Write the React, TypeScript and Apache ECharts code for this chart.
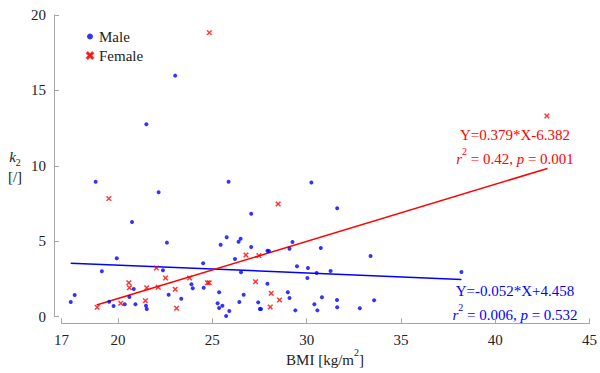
import React, { useEffect, useRef } from "react";
import * as echarts from "echarts";

const maleX = [17.49, 17.7, 18.81, 19.14, 19.53, 19.76, 19.93, 20.35, 20.6, 20.74, 20.83, 20.92, 21.48, 21.5, 21.52, 22.15, 22.38, 22.59, 22.68, 23.03, 23.35, 23.89, 23.96, 24.51, 24.54, 25.28, 25.36, 25.36, 25.44, 25.53, 25.73, 25.76, 25.86, 25.9, 26.2, 26.39, 26.43, 26.5, 26.52, 26.66, 27.06, 27.06, 27.43, 27.52, 27.58, 27.92, 27.92, 28.0, 29.0, 29.09, 29.09, 29.25, 29.4, 29.49, 30.04, 30.07, 30.25, 30.41, 30.53, 30.57, 30.75, 30.81, 31.27, 31.61, 31.62, 31.62, 32.82, 33.39, 33.58, 38.21];
const maleY = [0.97, 1.44, 8.95, 3.01, 0.99, 0.71, 3.87, 0.82, 1.31, 6.28, 1.84, 0.82, 0.73, 12.76, 0.51, 8.25, 3.08, 4.91, 1.46, 15.98, 1.19, 2.15, 1.88, 3.54, 1.92, 0.89, 1.62, 0.58, 4.77, 0.73, 0.05, 5.27, 8.95, 0.38, 3.83, 4.97, 0.97, 5.17, 2.94, 1.46, 6.83, 4.62, 0.95, 0.51, 0.51, 2.19, 4.37, 4.35, 1.62, 4.51, 1.24, 4.95, 0.42, 3.34, 2.57, 3.23, 8.89, 0.82, 2.9, 0.42, 4.56, 1.29, 3.03, 1.11, 7.19, 0.62, 0.56, 4.02, 1.09, 2.96];

const femaleX = [18.89, 19.51, 20.14, 20.57, 20.6, 21.45, 21.52, 22.03, 22.13, 22.52, 23.03, 23.1, 23.79, 24.74, 24.83, 24.84, 26.78, 27.29, 27.47, 28.07, 28.12, 28.49, 28.56, 42.74];
const femaleY = [0.62, 7.83, 0.89, 2.25, 1.92, 1.06, 1.92, 3.23, 1.95, 2.57, 1.82, 0.56, 2.57, 2.25, 2.25, 18.83, 4.09, 2.32, 4.05, 0.64, 1.55, 7.47, 1.11, 13.31];

const maleFitX = [17.49, 38.21];
const maleFitY = [3.55, 2.47];
const femaleFitX = [18.86, 42.77];
const femaleFitY = [0.77, 9.83];

const xTicks = [17, 20, 25, 30, 35, 40, 45];

const FONT = "Liberation Serif";
const RED = "#ff0000";
const BLUE = "#0000ff";
const AXIS = "#a6a6a6";
const TEXT = "#222222";

const zip = (xs: number[], ys: number[]) => xs.map((x, i) => [x, ys[i]]);

const X_SYMBOL =
  "path://M0,1.4 L1.4,0 L5,3.6 L8.6,0 L10,1.4 L6.4,5 L10,8.6 L8.6,10 L5,6.4 L1.4,10 L0,8.6 L3.6,5 Z";

export default function App() {
  const ref = useRef<HTMLDivElement>(null);
  useEffect(() => {
    if (!ref.current) return;
    const chart = echarts.init(ref.current, null, { renderer: "svg" });
    const mathRich = (color: string) => ({
      i: { fontFamily: FONT, fontStyle: "italic", fontSize: 15, fill: color, lineHeight: 20, verticalAlign: "bottom" },
      n: { fontFamily: FONT, fontSize: 15, fill: color, lineHeight: 20, verticalAlign: "bottom" },
      sup: { fontFamily: FONT, fontSize: 10, fill: color, lineHeight: 20, verticalAlign: "top", padding: [0, 0, 8, 0] },
    });
    chart.setOption({
      animation: false,
      backgroundColor: "#ffffff",
      textStyle: { fontFamily: FONT },
      grid: { left: 61.5, right: 8.3, top: 15, bottom: 56.3, containLabel: false },
      xAxis: {
        type: "value",
        min: 17,
        max: 45,
        offset: 6.6,
        splitLine: { show: false },
        axisLine: { onZero: false, lineStyle: { color: AXIS, width: 1 } },
        axisTick: { inside: true, length: 5, customValues: xTicks, lineStyle: { color: AXIS } },
        axisLabel: { customValues: xTicks, fontFamily: FONT, fontSize: 15, color: TEXT, margin: 9 },
      },
      yAxis: {
        type: "value",
        min: 0,
        max: 20,
        interval: 5,
        offset: 7.5,
        splitLine: { show: false },
        axisLine: { show: true, onZero: false, lineStyle: { color: AXIS, width: 1 } },
        axisTick: { show: true, inside: true, length: 5, lineStyle: { color: AXIS } },
        axisLabel: { fontFamily: FONT, fontSize: 15, color: TEXT, margin: 8 },
      },
      legend: {
        data: ["Male", "Female"],
        orient: "vertical",
        left: 81,
        top: 24,
        itemWidth: 6,
        itemHeight: 6,
        itemGap: 4,
        textStyle: { fontFamily: FONT, fontSize: 15, color: TEXT, padding: [0, 0, 0, 1] },
      },
      series: [
        {
          name: "Male",
          type: "scatter",
          data: zip(maleX, maleY),
          symbol: "circle",
          symbolSize: 4,
          itemStyle: { color: BLUE },
          z: 3,
        },
        {
          name: "Female",
          type: "scatter",
          data: zip(femaleX, femaleY),
          symbol: X_SYMBOL,
          symbolSize: 5,
          itemStyle: { color: RED, borderColor: RED, borderWidth: 0.5 },
          z: 3,
        },
        {
          name: "MaleFit",
          type: "line",
          data: zip(maleFitX, maleFitY),
          showSymbol: false,
          lineStyle: { color: BLUE, width: 1.5 },
          z: 2,
        },
        {
          name: "FemaleFit",
          type: "line",
          data: zip(femaleFitX, femaleFitY),
          showSymbol: false,
          lineStyle: { color: RED, width: 1.5 },
          z: 2,
        },
      ],
      graphic: [
        {
          type: "text",
          x: 515,
          y: 135,
          style: { text: "Y=0.379*X-6.382", fontFamily: FONT, fontSize: 15, fill: RED, align: "center", verticalAlign: "middle" },
        },
        {
          type: "text",
          x: 515,
          y: 156,
          style: {
            text: "{i|r}{sup|2}{n| = 0.42, }{i|p}{n| = 0.001}",
            rich: mathRich(RED),
            fill: RED,
            align: "center",
            verticalAlign: "middle",
          },
        },
        {
          type: "text",
          x: 515,
          y: 291,
          style: { text: "Y=-0.052*X+4.458", fontFamily: FONT, fontSize: 15, fill: BLUE, align: "center", verticalAlign: "middle" },
        },
        {
          type: "text",
          x: 515,
          y: 312,
          style: {
            text: "{i|r}{sup|2}{n| = 0.006, }{i|p}{n| = 0.532}",
            rich: mathRich(BLUE),
            fill: BLUE,
            align: "center",
            verticalAlign: "middle",
          },
        },
        {
          type: "text",
          x: 15,
          y: 158,
          style: {
            text: "{k|k}{sub|2}",
            rich: {
              k: { fontFamily: FONT, fontStyle: "italic", fontSize: 15, fill: TEXT, lineHeight: 18, verticalAlign: "top" },
              sub: { fontFamily: FONT, fontSize: 10, fill: TEXT, lineHeight: 18, verticalAlign: "bottom" },
            },
            fill: TEXT,
            align: "center",
            verticalAlign: "middle",
          },
        },
        {
          type: "text",
          x: 15,
          y: 177,
          style: { text: "[/]", fontFamily: FONT, fontSize: 15, fill: TEXT, align: "center", verticalAlign: "middle" },
        },
        {
          type: "text",
          x: 325,
          y: 357,
          style: {
            text: "{n|BMI [kg/m}{sup|2}{n|]}",
            rich: {
              n: { fontFamily: FONT, fontSize: 15, fill: TEXT, lineHeight: 20, verticalAlign: "bottom" },
              sup: { fontFamily: FONT, fontSize: 10, fill: TEXT, lineHeight: 20, verticalAlign: "top", padding: [0, 0, 8, 0] },
            },
            fill: TEXT,
            align: "center",
            verticalAlign: "middle",
          },
        },
      ],
    });
    return () => chart.dispose();
  }, []);
  return <div ref={ref} style={{ width: 600, height: 373, position: "absolute", left: 0, top: 0 }} />;
}
